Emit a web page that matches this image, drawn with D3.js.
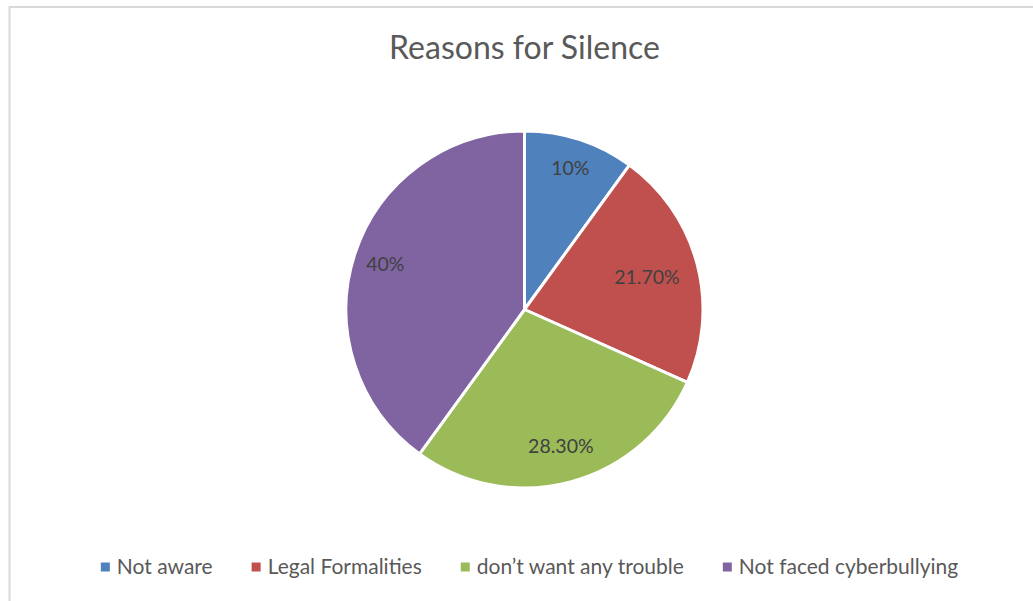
<!DOCTYPE html>
<html>
<head>
<meta charset="utf-8">
<script src="https://cdn.jsdelivr.net/npm/d3@7"></script>
<style>
  html, body { margin: 0; padding: 0; background: #fff; }
  svg { display: block; }
</style>
</head>
<body>
<svg id="chart" width="1033" height="601"></svg>
<script>
// Survey answers: why respondents stayed silent
const categories = ["Not aware", "Legal Formalities", "don\u2019t want any trouble", "Not faced cyberbullying"];
const values = [10, 21.7, 28.3, 40];
const valueLabels = ["10%", "21.70%", "28.30%", "40%"];
const colors = ["#4f81bd", "#c0504d", "#9bbb59", "#8064a2"];
const chartTitle = "Reasons for Silence";

// label distance from centre, as a fraction of the radius, per slice
const labelRadiusFactor = [0.83, 0.71, 0.79, 0.82];

const W = 1033, H = 601;
const cx = 524.5, cy = 309.5, R = 178.5;
const font = "Lato, 'Open Sans', sans-serif";

const svg = d3.select("#chart");

// chart area frame (runs off the right and bottom of the page)
svg.append("rect")
  .attr("x", 9.5).attr("y", 7)
  .attr("width", W + 20).attr("height", H + 20)
  .attr("fill", "#fff")
  .attr("stroke", "#d9d9d9").attr("stroke-width", 2);

// title
svg.append("text")
  .attr("x", cx).attr("y", 59)
  .attr("text-anchor", "middle")
  .attr("font-family", font)
  .attr("font-size", 32)
  .attr("fill", "#595959")
  .text(chartTitle);

const data = categories.map((c, i) => ({ cat: c, value: values[i], label: valueLabels[i], color: colors[i], i }));

const pie = d3.pie().value(d => d.value).sort(null);
const arcs = pie(data);
const arc = d3.arc().innerRadius(0).outerRadius(R);

const g = svg.append("g").attr("transform", `translate(${cx},${cy})`);

g.selectAll("path.slice")
  .data(arcs)
  .join("path")
  .attr("class", "slice")
  .attr("d", arc)
  .attr("fill", d => d.data.color)
  .attr("stroke", "#fff")
  .attr("stroke-width", 3)
  .attr("stroke-linejoin", "round");

g.selectAll("text.val")
  .data(arcs)
  .join("text")
  .attr("class", "val")
  .attr("transform", d => {
    const rr = R * labelRadiusFactor[d.data.i];
    const c = d3.arc().innerRadius(rr).outerRadius(rr).centroid(d);
    return `translate(${c[0]},${c[1]})`;
  })
  .attr("text-anchor", "middle")
  .attr("dy", "0.35em")
  .attr("font-family", font)
  .attr("font-size", 19.5)
  .attr("fill", "#404040")
  .text(d => d.data.label);

// legend, centred horizontally below the pie
const legend = svg.append("g");
const legendY = 567;
const markerSize = 9, markerGap = 7, itemGap = 39;
const items = legend.selectAll("g.item").data(data).join("g").attr("class", "item");
items.append("rect")
  .attr("width", markerSize).attr("height", markerSize)
  .attr("y", legendY - markerSize / 2)
  .attr("fill", d => d.color);
items.append("text")
  .attr("x", markerSize + markerGap)
  .attr("y", legendY)
  .attr("dy", "0.35em")
  .attr("font-family", font)
  .attr("font-size", 21)
  .attr("fill", "#595959")
  .text(d => d.cat);

const widths = [];
items.each(function () {
  widths.push(d3.select(this).select("text").node().getComputedTextLength());
});
const total = d3.sum(widths, w => markerSize + markerGap + w) + itemGap * (widths.length - 1);
let x = cx + 5 - total / 2;
items.attr("transform", (d, i) => {
  const t = `translate(${x},0)`;
  x += markerSize + markerGap + widths[i] + itemGap;
  return t;
});
</script>
</body>
</html>
